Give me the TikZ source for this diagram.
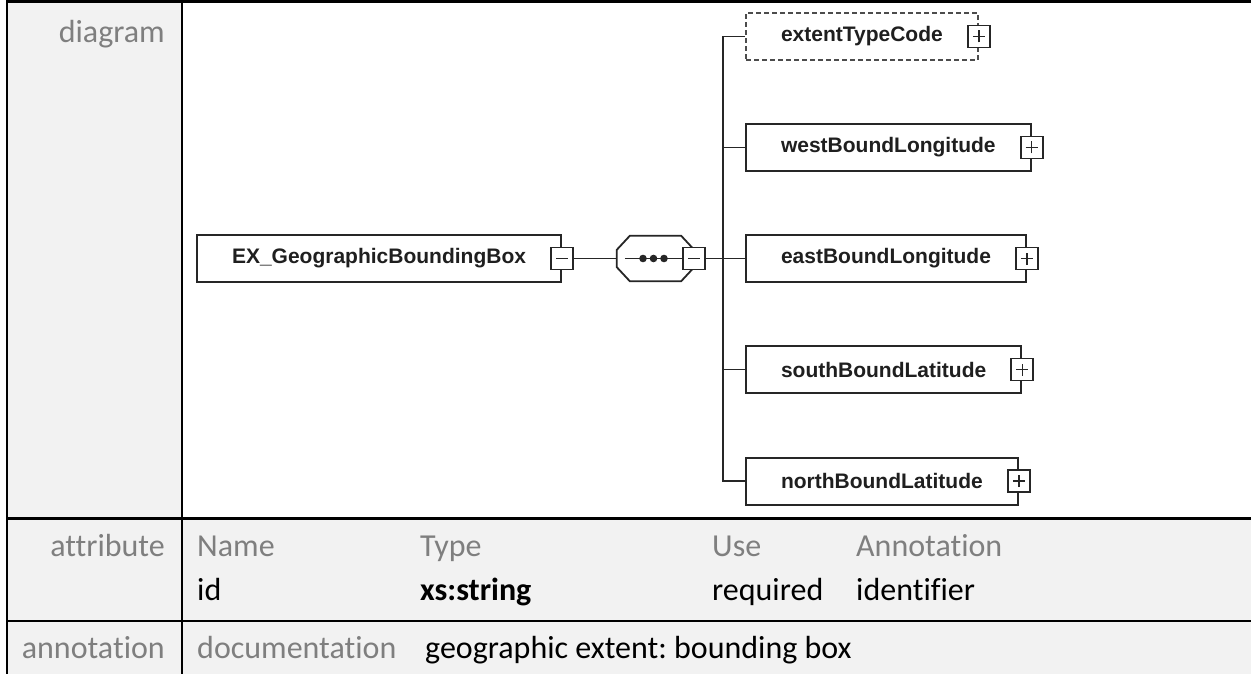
\documentclass[tikz,border=0pt]{standalone}
\usepackage{fontspec}
\setmainfont[Ligatures={NoCommon,NoRequired,NoContextual}]{Carlito}
\newfontfamily\xsdfont{Liberation Sans}
\usetikzlibrary{positioning}
\frenchspacing

\definecolor{cellgray}{HTML}{F2F2F2}
\definecolor{labelgray}{HTML}{7F7F7F}
\definecolor{boxline}{HTML}{262626}

\begin{document}
\begin{tikzpicture}[x=1pt,y=-1pt,
  elem/.style={draw=boxline,line width=2pt,fill=white,anchor=west,minimum height=47pt,inner xsep=35pt,inner ysep=0pt,
    font=\xsdfont\bfseries\fontsize{21}{25}\selectfont,text=black!88},
  optelem/.style={elem,draw=black!70,dash pattern=on 5pt off 3pt},
  tog/.style={draw=boxline,line width=1.8pt,fill=white,minimum size=22pt,inner sep=0pt},
  minusbox/.style={tog,path picture={\draw[line width=1.6pt] ([xshift=-6pt]path picture bounding box.center) -- ([xshift=6pt]path picture bounding box.center);}},
  plusbox/.style={tog,path picture={\draw[line width=1.6pt] ([xshift=-6pt]path picture bounding box.center) -- ([xshift=6pt]path picture bounding box.center)
    ([yshift=-6pt]path picture bounding box.center) -- ([yshift=6pt]path picture bounding box.center);}},
  wire/.style={draw=boxline,line width=1.8pt},
  lbl/.style={inner sep=0pt,text=labelgray,font=\fontsize{32}{38}\selectfont},
  val/.style={inner sep=0pt,text=black,font=\fontsize{32}{38}\selectfont}]
\useasboundingbox (0,0) rectangle (1251,674);
\fill[white] (0,0) rectangle (1251,674);
\fill[cellgray] (7,0) rectangle (182,674);
\fill[cellgray] (182,518) rectangle (1251,674);
\draw[line width=3pt] (7,1.5) -- (1251,1.5);
\draw[line width=2.5pt] (7,0) -- (7,674);
\draw[line width=2.5pt] (182,0) -- (182,674);
\draw[line width=3pt] (7,518.5) -- (1251,518.5);
\draw[line width=2.5pt] (7,621) -- (1251,621);

\node[lbl,anchor=base east] (diaglbl) at (165,43) {diagram};
\node[lbl,anchor=base east] (attrlbl) at (165,556) {attribute};
\node[lbl,anchor=base east] (annlbl) at (165,658) {annotation};
\node[lbl,anchor=base west] (hname) at (197,556) {Name};
\node[lbl,anchor=base west] (htype) at (420,556) {Type};
\node[lbl,anchor=base west] (huse) at (712,556) {Use};
\node[lbl,anchor=base west] (hann) at (856,556) {Annotation};
\node[val,anchor=base west] (vname) at (197,600) {id};
\node[val,anchor=base west] (vtype) at (420,600) {\textbf{xs:string}};
\node[val,anchor=base west] (vuse) at (712,600) {required};
\node[val,anchor=base west] (vann) at (856,600) {identifier};
\node[lbl,anchor=base west] (doclbl) at (197,658) {documentation};
\node[val,anchor=base west] (doctext) at (425,658) {geographic extent: bounding box};

\node[elem] (root) at (196,258.5) {EX\_GeographicBoundingBox};
\node[minusbox] (rootm) at (root.east) {};
\node[minimum width=77pt,minimum height=45pt,inner sep=0pt] (seq) at (655.5,258.5) {};
\draw[wire,fill=white] ([xshift=13pt]seq.north west) -- ([xshift=-13pt]seq.north east) -- ([yshift=-14pt]seq.north east)
  -- ([yshift=14pt]seq.south east) -- ([xshift=-13pt]seq.south east) -- ([xshift=13pt]seq.south west)
  -- ([yshift=14pt]seq.south west) -- ([yshift=-14pt]seq.north west) -- cycle;
\node[minusbox] (seqm) at (seq.east) {};
\draw[wire] ([xshift=8pt]seq.west) -- (seqm);
\fill[boxline] (643,258.5) circle (3.8pt) (653.5,258.5) circle (3.8pt) (664,258.5) circle (3.8pt);
\draw[wire] (rootm) -- (seq);

\node[optelem] (ext) at (745,36.5) {extentTypeCode};
\node[elem] (west) at (745,147.5) {westBoundLongitude};
\node[elem] (east) at (745,258.5) {eastBoundLongitude};
\node[elem] (south) at (745,369.5) {southBoundLatitude};
\node[elem] (north) at (745,481) {northBoundLatitude};
\node[plusbox] (extp) at (ext.east) {};
\node[plusbox] (westp) at (west.east) {};
\node[plusbox] (eastp) at (east.east) {};
\node[plusbox] (southp) at (south.east) {};
\node[plusbox] (northp) at (north.east) {};
\coordinate (bus) at (723,258.5);
\draw[wire] (seqm) -- (east);
\draw[wire] (ext.west) -- (ext.west -| bus) -- (north.west -| bus) -- (north.west);
\draw[wire] (west.west) -- (west.west -| bus);
\draw[wire] (south.west) -- (south.west -| bus);
\end{tikzpicture}
\end{document}
